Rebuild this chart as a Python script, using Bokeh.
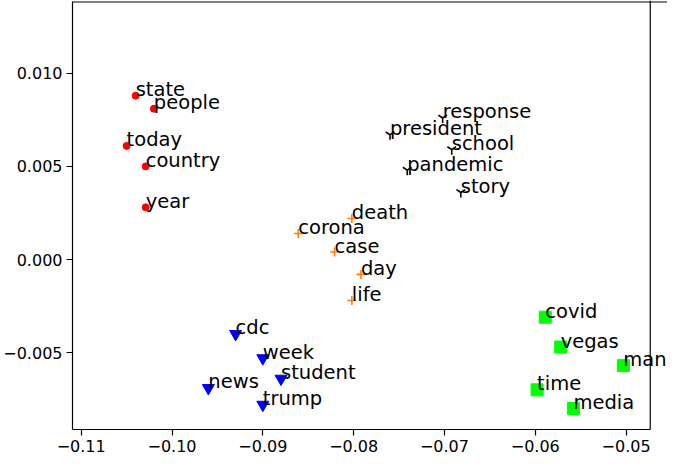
from bokeh.plotting import figure
from bokeh.models import ColumnDataSource, Label, Range1d, FixedTicker, Span
from bokeh.embed import file_html
from bokeh.resources import INLINE

# --- data ---
red_words = ["state", "people", "today", "country", "year"]
red_x = [-0.1040, -0.1020, -0.1050, -0.1029, -0.1029]
red_y = [0.0088, 0.0081, 0.0061, 0.0050, 0.0028]

black_words = ["response", "president", "school", "pandemic", "story"]
black_x = [-0.0702, -0.0760, -0.0692, -0.0741, -0.0682]
black_y = [0.0076, 0.0067, 0.0059, 0.0048, 0.0036]

orange_words = ["death", "corona", "case", "day", "life"]
orange_x = [-0.0802, -0.0861, -0.0821, -0.0792, -0.0802]
orange_y = [0.0022, 0.0014, 0.0004, -0.0008, -0.0022]

blue_words = ["cdc", "week", "student", "news", "trump"]
blue_x = [-0.0930, -0.0900, -0.0880, -0.0960, -0.0900]
blue_y = [-0.0040, -0.0053, -0.0064, -0.0069, -0.0078]

green_words = ["covid", "vegas", "man", "time", "media"]
green_x = [-0.0589, -0.0572, -0.0503, -0.0598, -0.0558]
green_y = [-0.0031, -0.0047, -0.0057, -0.0070, -0.0080]

x_ticks = [-0.11, -0.10, -0.09, -0.08, -0.07, -0.06, -0.05]
x_tick_labels = ["\u22120.11", "\u22120.10", "\u22120.09", "\u22120.08", "\u22120.07", "\u22120.06", "\u22120.05"]
y_ticks = [-0.005, 0.0, 0.005, 0.010]
y_tick_labels = ["\u22120.005", "0.000", "0.005", "0.010"]

# axes box limits
x_lo, x_hi = -0.11096, -0.04734
y_lo, y_hi = -0.00913, 0.01383

FONT = "DejaVu Sans"

# the plotting frame reaches beyond the box on the right/top so that
# labels (e.g. "man") can overflow the right spine like in the reference
p = figure(width=667, height=454, output_backend="svg", toolbar_location=None,
           x_range=Range1d(x_lo, x_hi + 0.0019), y_range=Range1d(y_lo, y_hi + 0.00008),
           min_border_left=10, min_border_right=0, min_border_top=0, min_border_bottom=10)
p.grid.visible = False
p.outline_line_color = None

for ax, ticks, labels, bounds in ((p.xaxis[0], x_ticks, x_tick_labels, (x_lo, x_hi)),
                                  (p.yaxis[0], y_ticks, y_tick_labels, (y_lo, y_hi))):
    ax.ticker = FixedTicker(ticks=ticks)
    ax.major_label_overrides = {t: l for t, l in zip(ticks, labels)}
    ax.bounds = bounds
    ax.minor_tick_line_color = None
    ax.major_tick_in = 0
    ax.major_tick_out = 6
    ax.major_tick_line_width = 1.2
    ax.axis_line_width = 1.2
    ax.axis_line_color = "black"
    ax.major_label_text_font = FONT
    ax.major_label_text_font_size = "16px"
    ax.major_label_text_color = "black"
    ax.major_label_standoff = 4

# right and top spines
p.add_layout(Span(location=x_hi, dimension="height", line_color="black", line_width=1.2))
p.add_layout(Span(location=y_hi, dimension="width", line_color="black", line_width=1.2))

groups = [
    (red_words, red_x, red_y, "circle", "#ff0000", 7),
    (black_words, black_x, black_y, "y", "black", 10),
    (orange_words, orange_x, orange_y, "cross", "#ff7f0e", 9),
    (blue_words, blue_x, blue_y, "inverted_triangle", "#0000ff", 12),
    (green_words, green_x, green_y, "square", "#00ff00", 12),
]

for words, xs, ys, marker, color, size in groups:
    src = ColumnDataSource(dict(x=xs, y=ys, w=words))
    lw = 1.6 if marker in ("y", "cross") else 1
    p.scatter("x", "y", source=src, marker=marker, size=size, fill_color=color,
              line_color=color, line_width=lw)
    for wx, wy, wt in zip(xs, ys, words):
        p.add_layout(Label(x=wx, y=wy, text=wt, text_font=FONT,
                           text_font_size="19.5px", text_color="black",
                           text_align="left", text_baseline="alphabetic",
                           y_offset=6))

open("out.html", "w").write(file_html(p, INLINE))
